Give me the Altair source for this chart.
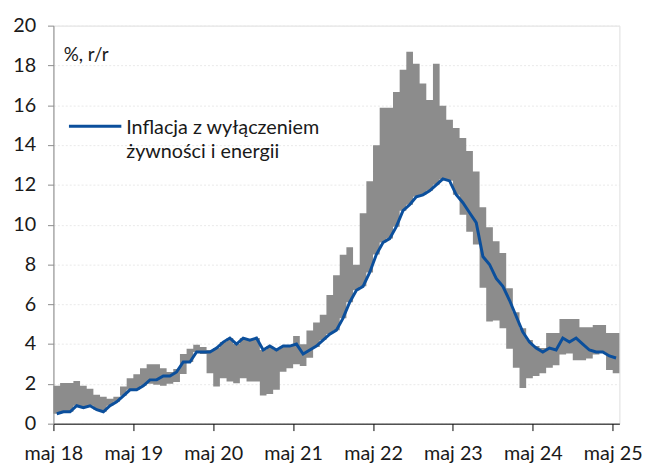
import altair as alt
import pandas as pd

# Monthly data, May 2018 .. May 2025 (85 months)
core = [0.5, 0.6, 0.6, 0.9, 0.8, 0.9, 0.7, 0.6,
        0.9, 1.1, 1.4, 1.7, 1.7, 1.9, 2.2, 2.2, 2.4, 2.4, 2.6, 3.1,
        3.1, 3.6, 3.6, 3.6, 3.8, 4.1, 4.3, 4.0, 4.3, 4.2, 4.3, 3.7,
        3.9, 3.7, 3.9, 3.9, 4.0, 3.5, 3.7, 3.9, 4.2, 4.5, 4.7, 5.3,
        6.1, 6.7, 6.9, 7.6, 8.5, 9.1, 9.3, 9.9, 10.7, 11.0, 11.4, 11.5,
        11.7, 12.0, 12.3, 12.2, 11.5, 11.1, 10.6, 10.1, 8.4, 8.0, 7.3, 6.9,
        6.2, 5.4, 4.6, 4.1, 3.8, 3.6, 3.8, 3.7, 4.3, 4.1, 4.3, 4.0,
        3.7, 3.6, 3.6, 3.4, 3.3]

range_hi = [1.9, 2.05, 2.05, 2.15, 1.9, 1.75, 1.45, 1.35, 1.25, 1.35, 1.87, 2.28,
            2.48, 2.78, 2.98, 2.98, 2.78, 2.6, 2.75, 3.5, 3.77, 3.97, 3.85, 3.7,
            3.8, 4.1, 4.3, 4.0, 4.3, 4.2, 4.3, 3.7, 3.9, 3.7, 3.9, 3.9,
            4.4, 3.99, 4.68, 5.08, 5.47, 6.46, 7.46, 8.49, 8.87, 7.99, 10.57, 12.18,
            13.99, 15.88, 15.88, 16.67, 17.78, 18.69, 18.08, 17.09, 16.26, 18.08, 15.98, 15.27,
            14.86, 14.36, 13.7, 12.67, 10.88, 9.87, 9.17, 8.58, 6.8, 5.6, 4.8, 4.2,
            3.9, 3.8, 4.55, 4.55, 5.26, 5.26, 5.26, 4.85, 4.85, 4.96, 4.96, 4.55,
            4.55]

range_lo = [0.5, 0.6, 0.6, 0.9, 0.8, 0.9, 0.7, 0.6, 0.9, 1.1, 1.4, 1.7,
            1.7, 1.9, 2.0, 1.95, 1.9, 2.0, 2.1, 2.5, 3.1, 3.6, 3.5, 2.53,
            1.87, 2.28, 2.12, 2.03, 2.28, 2.12, 2.12, 1.41, 1.49, 1.7, 2.61, 2.78,
            2.99, 2.9, 3.31, 3.85, 4.2, 4.5, 4.7, 5.3, 6.1, 6.7, 6.9, 7.6,
            8.5, 9.1, 9.3, 9.9, 10.7, 11.0, 11.4, 11.5, 11.7, 12.0, 12.3, 12.2,
            11.5, 10.5, 9.64, 9.0, 6.83, 5.13, 5.18, 4.8, 3.77, 2.81, 1.79, 2.28,
            2.4, 2.53, 2.81, 2.94, 3.47, 3.52, 3.19, 3.19, 3.28, 3.47, 3.57, 2.7,
            2.53]

tick_labels = ["maj 18", "maj 19", "maj 20", "maj 21", "maj 22", "maj 23", "maj 24", "maj 25"]
y_ticks = [0, 2, 4, 6, 8, 10, 12, 14, 16, 18, 20]
unit_label = "%, r/r"
legend_lines = ["Inflacja z wyłączeniem", "żywności i energii"]

n = len(core)
df = pd.DataFrame({
    "xc": [k + 0.5 for k in range(n)],
    "core": core,
})
# step area: each month spans [i, i+1]; the closing edge repeats the last month
band = pd.DataFrame({
    "i": list(range(n + 1)),
    "lo": range_lo + [range_lo[-1]],
    "hi": range_hi + [range_hi[-1]],
})

FONT = "Lato"
GRAY = "#8c8c8c"
BLUE = "#0b4f9c"
x_scale = alt.Scale(domain=[0, n], nice=False, zero=False)
y_scale = alt.Scale(domain=[0, 20], nice=False)

label_expr = "[" + ",".join("'" + t + "'" for t in tick_labels) + "][round(datum.value/12)]"

x_axis = alt.Axis(values=[12 * k for k in range(len(tick_labels))], labelExpr=label_expr,
                  title=None, grid=False, tickSize=7, tickColor="#000", domainColor="#000",
                  labelFontSize=20, labelFont=FONT, labelColor="#1a1a1a", labelPadding=13,
                  labelFlush=False, labelOverlap=False)
y_axis = alt.Axis(values=y_ticks, title=None, grid=True, gridColor="#e9e9e9", gridDash=[2, 2],
                  tickSize=6, tickColor="#8a8a8a", domainColor="#8a8a8a",
                  labelFontSize=20, labelFont=FONT, labelColor="#1a1a1a", labelPadding=12)

bars = alt.Chart(band).mark_area(color=GRAY, interpolate="step-after", opacity=1).encode(
    x=alt.X("i:Q", scale=x_scale, axis=x_axis),
    y=alt.Y("lo:Q", scale=y_scale, axis=y_axis),
    y2="hi:Q",
)

line = alt.Chart(df).mark_line(color=BLUE, strokeWidth=3).encode(
    x=alt.X("xc:Q", scale=x_scale),
    y=alt.Y("core:Q", scale=y_scale),
)

unit_df = pd.DataFrame({"x": [1.55], "y": [18.5], "t": [unit_label]})
unit_txt = alt.Chart(unit_df).mark_text(align="left", baseline="middle", fontSize=19,
                                        font=FONT, color="#1a1a1a").encode(
    x=alt.X("x:Q", scale=x_scale), y=alt.Y("y:Q", scale=y_scale), text="t:N")

leg_line_df = pd.DataFrame({"x": [2.33], "x2": [10.2], "y": [14.94]})
leg_line = alt.Chart(leg_line_df).mark_rule(color=BLUE, strokeWidth=3).encode(
    x=alt.X("x:Q", scale=x_scale), x2="x2:Q", y=alt.Y("y:Q", scale=y_scale))

leg_txt_df = pd.DataFrame({"x": [10.93, 10.93], "y": [14.54, 13.35], "t": legend_lines})
leg_txt = alt.Chart(leg_txt_df).mark_text(align="left", baseline="alphabetic", fontSize=20,
                                          font=FONT, color="#1a1a1a").encode(
    x=alt.X("x:Q", scale=x_scale), y=alt.Y("y:Q", scale=y_scale), text="t:N")

chart = alt.layer(bars, line, unit_txt, leg_line, leg_txt).properties(
    width=573, height=403,
    autosize=alt.AutoSizeParams(type="none"),
    padding={"left": 46, "top": 15, "right": 31, "bottom": 40},
).configure_view(stroke=None).configure(background="white")

chart.save("out.html", embed_options={"renderer": "svg", "actions": False})
